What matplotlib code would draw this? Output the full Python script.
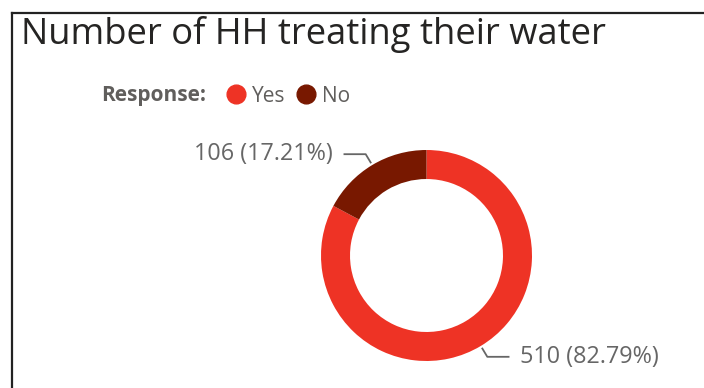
import matplotlib.pyplot as plt
import numpy as np
from matplotlib.lines import Line2D

labels = ["Yes", "No"]
counts = [510, 106]
colors = ["#EE3325", "#781800"]

title = "Number of HH treating their water"
legend_title = "Response:"

plt.rcParams["font.family"] = ["Open Sans", "DejaVu Sans"]

W, H = 704, 388
fig = plt.figure(figsize=(W / 100, H / 100), dpi=100)


def fx(px):
    return px / W


def fy(py):
    return 1 - py / H


# frame around the visual (only top and left edges visible)
fig.add_artist(Line2D([fx(12), fx(12)], [fy(13), 0], color="#222222", lw=1.6))
fig.add_artist(Line2D([fx(12), 1], [fy(13), fy(13)], color="#222222", lw=1.6))

fig.text(fx(21), fy(44), title, fontsize=26.2, color="#252423", va="baseline", ha="left")

# donut
cx, cy, r = 426.5, 255.5, 105.5
ax = fig.add_axes([fx(cx - r), fy(cy + r), 2 * r / W, 2 * r / H])
wedges, _ = ax.pie(counts, colors=colors, startangle=90, counterclock=False,
                   radius=1.0, wedgeprops=dict(width=0.275, edgecolor="none"))
ax.set_xlim(-1, 1)
ax.set_ylim(-1, 1)
ax.set_aspect("equal")
ax.axis("off")

total = sum(counts)
for w, n in zip(wedges, counts):
    mid = np.deg2rad((w.theta1 + w.theta2) / 2)
    x0, y0 = 1.02 * np.cos(mid), 1.02 * np.sin(mid)
    x1, y1 = 1.12 * np.cos(mid), 1.12 * np.sin(mid)
    side = 1 if np.cos(mid) > 0 else -1
    x2 = x1 + side * 0.21
    ax.plot([x0, x1, x2], [y0, y1, y1], color="#666666", lw=1.3,
            clip_on=False, solid_capstyle="butt")
    ax.text(x2 + side * 0.1, y1, f"{n} ({n / total * 100:.2f}%)", fontsize=16.8,
            color="#666666", ha="left" if side > 0 else "right", va="center",
            clip_on=False)

# legend
fig.text(fx(101), fy(96), legend_title, fontsize=15, fontweight="bold",
         color="#605E5C", va="center", ha="left")
handles = [Line2D([], [], marker="o", ls="none", markersize=13.5,
                  markerfacecolor=c, markeredgecolor=c) for c in colors]
fig.legend(handles, labels, loc="center left", bbox_to_anchor=(fx(227), fy(96)),
           ncol=2, frameon=False, fontsize=15, handlelength=0.9,
           handletextpad=0.32, columnspacing=0.5, borderpad=0, borderaxespad=0,
           labelcolor="#605E5C")

fig.savefig("out.png", dpi=100)
